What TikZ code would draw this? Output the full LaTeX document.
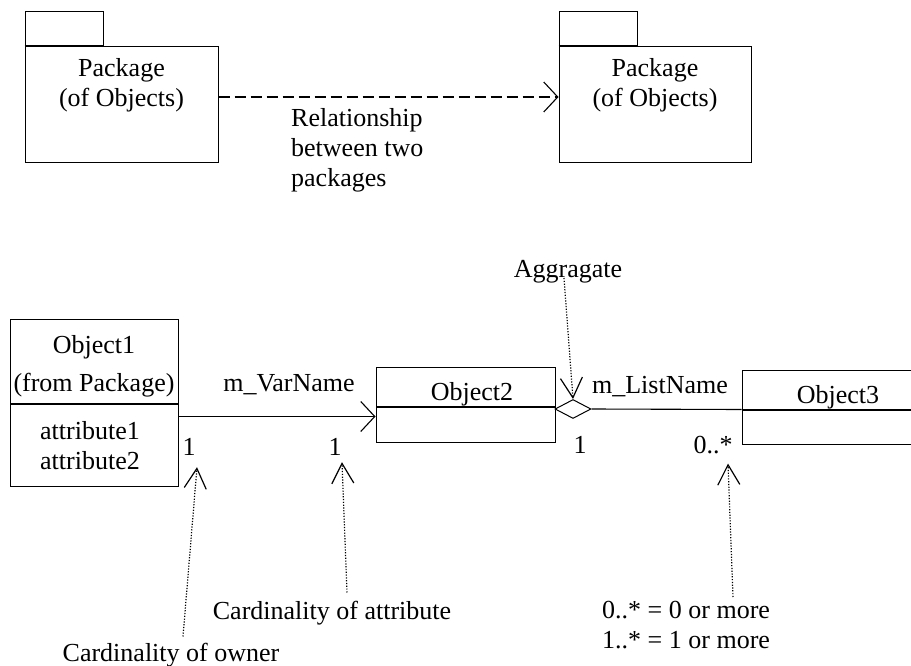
\documentclass[tikz,border=0pt]{standalone}
\usepackage{fontspec}
\setmainfont{Liberation Serif}
\usetikzlibrary{arrows.meta,shapes.geometric}

\begin{document}
\begin{tikzpicture}[x=1pt, y=-1pt,
    font=\fontsize{26}{30}\selectfont,
    every node/.style={inner sep=0pt},
    box/.style={draw, line width=1pt},
    txt/.style={align=center, anchor=north},
    open/.style={line width=1.1pt, -{Straight Barb[length=14pt,width=30pt]}},
    pointer/.style={line width=1.2pt, dash pattern=on 1.2pt off 1.6pt,
        -{Straight Barb[length=20pt,width=22pt]}}]

\clip (0,0) rectangle (911,666);

% the two packages
\node[box, minimum width=193pt, minimum height=116pt] (pkgA) at (121.5,105) {};
\node[box, minimum width=78pt, minimum height=34pt, anchor=south west] (tabA) at (pkgA.north west) {};
\draw[line width=2pt] (tabA.south west) -- (tabA.south east);
\node[txt] (pkgAtxt) at (121.5,58) {Package\\(of Objects)};

\node[box, minimum width=192pt, minimum height=116pt] (pkgB) at (655,105) {};
\node[box, minimum width=78pt, minimum height=34pt, anchor=south west] (tabB) at (pkgB.north west) {};
\draw[line width=2pt] (tabB.south west) -- (tabB.south east);
\node[txt] (pkgBtxt) at (655,58) {Package\\(of Objects)};

\draw[open, dash pattern=on 11pt off 5pt] ([yshift=8pt]pkgA.east) -- ([yshift=8pt]pkgB.west);
\node[align=left, anchor=north west] (rel) at (291,108) {Relationship\\between two\\packages};

% classes
\node[box, minimum width=168pt, minimum height=84pt] (obj1head) at (94,361) {};
\node[box, minimum width=168pt, minimum height=82pt, anchor=north] (obj1attr) at (obj1head.south) {};
\node[txt] (obj1txt) at (94,335) {Object1\\[8pt](from Package)};
\node[txt] (attrtxt) at (90,421) {attribute1\\attribute2};

\node[box, minimum width=179pt, minimum height=39pt] (obj2head) at (465.5,386.5) {};
\node[box, minimum width=179pt, minimum height=35pt, anchor=north] (obj2body) at (obj2head.south) {};
\node[anchor=base] (obj2txt) at (472,400) {Object2};

\node[box, minimum width=192pt, minimum height=39pt] (obj3head) at (838,389.5) {};
\node[box, minimum width=192pt, minimum height=34pt, anchor=north] (obj3body) at (obj3head.south) {};
\node[anchor=base] (obj3txt) at (838,403) {Object3};

% association and aggregation
\coordinate (vA) at ([yshift=-13pt]obj1attr.north east);
\draw[open] (vA) -- (vA -| obj2body.west);
\node[anchor=base] (varname) at (289,391) {m\_VarName};

\node[diamond, draw, line width=1pt, fill=white, minimum width=36pt, minimum height=19pt] (agg) at (573,409) {};
\draw[line width=1.1pt] (agg.east) -- (obj3head.south west);
\node[anchor=base] (listname) at (660,393) {m\_ListName};

% cardinalities
\node[anchor=base] (oneA) at (189,455) {1};
\node[anchor=base] (oneB) at (335,455) {1};
\node[anchor=base] (oneC) at (580,453) {1};
\node[anchor=base] (many) at (713,453) {0..*};

% notes
\node[anchor=base] (aggtxt) at (568,277) {Aggragate};
\node[anchor=base] (cardattr) at (332,619) {Cardinality of attribute};
\node[anchor=base] (cardowner) at (171,661) {Cardinality of owner};
\node[align=left, anchor=north west] (moretxt) at (602,601) {0..* = 0 or more\\1..* = 1 or more};

\draw[pointer] ([shift={(-4,1)}]aggtxt.base) -- (agg.north);
\draw[pointer] ([shift={(12,-6)}]cardowner.north) -- ([shift={(8,12)}]oneA.south);
\draw[pointer] ([shift={(15,-8)}]cardattr.north) -- ([shift={(7,7)}]oneB.south);
\draw[pointer] ([shift={(131,-4)}]moretxt.north west) -- ([shift={(15,10)}]many.south);
\end{tikzpicture}
\end{document}
